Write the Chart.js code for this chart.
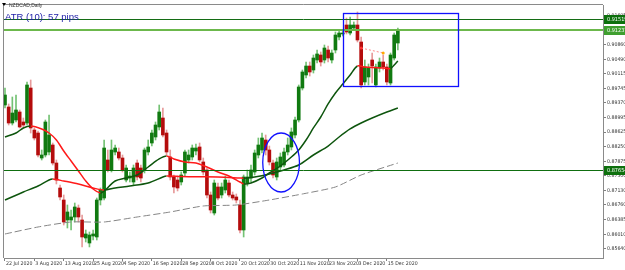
<!DOCTYPE html>
<html>
<head>
<meta charset="utf-8">
<script src="https://cdn.jsdelivr.net/npm/chart.js@4.4.1/dist/chart.umd.min.js"></script>
<style>
html, body { margin: 0; padding: 0; background: #fff; }
canvas { display: block; }
</style>
</head>
<body>
<canvas id="chart" width="625" height="270"></canvas>
<script>
// NZDCAD daily, one bar per trading day starting 22 Jul 2020
const tickDates = ['22 Jul 2020', '3 Aug 2020', '13 Aug 2020', '25 Aug 2020', '4 Sep 2020', '16 Sep 2020',
  '28 Sep 2020', '8 Oct 2020', '20 Oct 2020', '30 Oct 2020', '11 Nov 2020', '23 Nov 2020', '3 Dec 2020', '15 Dec 2020'];
const tickEvery = 8;

const opens = [
  0.89317, 0.89266, 0.88856, 0.88933, 0.89138, 0.88882, 0.88856, 0.89752, 0.88677, 0.88600,
  0.87960, 0.88037, 0.88114, 0.88293, 0.87832, 0.87192, 0.86885, 0.86373, 0.86373, 0.86450,
  0.86680, 0.86373, 0.85912, 0.85784, 0.85963, 0.85938, 0.86885, 0.86936, 0.87909, 0.87653,
  0.88114, 0.88114, 0.87960, 0.87397, 0.87448, 0.87346, 0.87832, 0.87704, 0.87653, 0.88114,
  0.88344, 0.88498, 0.88754, 0.88984, 0.88600, 0.87986, 0.87474, 0.87397, 0.87346, 0.87576,
  0.87909, 0.87986, 0.88139, 0.88242, 0.87858, 0.87653, 0.87013, 0.86552, 0.87218, 0.87013,
  0.87141, 0.87320, 0.87013, 0.86962, 0.86757, 0.86117, 0.87320, 0.87448, 0.87602, 0.88037,
  0.88165, 0.88421, 0.88165, 0.87832, 0.87474, 0.87730, 0.87781, 0.88114, 0.88242, 0.88549,
  0.88933, 0.89752, 0.90085, 0.90315, 0.90213, 0.90469, 0.90597, 0.90469, 0.90725, 0.90469,
  0.90725, 0.91058, 0.91135, 0.91365, 0.91160, 0.91288, 0.91365, 0.90930, 0.89906, 0.90034,
  0.90469, 0.89829, 0.90264, 0.90418, 0.90290, 0.89880, 0.90520, 0.90904];
const highs = [
  0.89752, 0.89343, 0.89522, 0.89573, 0.89189, 0.88984, 0.89906, 0.89957, 0.88729, 0.88652,
  0.88165, 0.88933, 0.89061, 0.88344, 0.87909, 0.87269, 0.87013, 0.86757, 0.86629, 0.86808,
  0.86757, 0.86501, 0.86117, 0.86066, 0.86117, 0.86936, 0.87192, 0.88421, 0.88165, 0.88421,
  0.88293, 0.88216, 0.88037, 0.87781, 0.87602, 0.87781, 0.87909, 0.87781, 0.88216, 0.88421,
  0.88677, 0.88882, 0.89317, 0.89240, 0.88677, 0.88165, 0.87525, 0.87499, 0.87602, 0.88165,
  0.88165, 0.88293, 0.88319, 0.88344, 0.87960, 0.87704, 0.87090, 0.87397, 0.87320, 0.87320,
  0.87499, 0.87397, 0.87090, 0.87039, 0.86885, 0.87525, 0.87653, 0.87781, 0.88165, 0.88472,
  0.88600, 0.88549, 0.88267, 0.87909, 0.87960, 0.88088, 0.88216, 0.88472, 0.88729, 0.89010,
  0.89829, 0.90213, 0.90418, 0.90418, 0.90597, 0.90725, 0.90674, 0.90853, 0.90827, 0.90725,
  0.91186, 0.91237, 0.91211, 0.91544, 0.91570, 0.91442, 0.91698, 0.91058, 0.90469, 0.90367,
  0.90648, 0.90367, 0.90520, 0.90597, 0.90367, 0.90648, 0.91160, 0.91288];
const lows = [
  0.89240, 0.88805, 0.88805, 0.88882, 0.88729, 0.88729, 0.88805, 0.88600, 0.88421, 0.87986,
  0.87909, 0.87986, 0.88037, 0.87781, 0.87295, 0.86885, 0.86245, 0.86168, 0.86117, 0.86322,
  0.86322, 0.85683, 0.85810, 0.85683, 0.85861, 0.85861, 0.86757, 0.86885, 0.87602, 0.87602,
  0.88037, 0.87909, 0.87602, 0.87346, 0.87346, 0.87269, 0.87397, 0.87346, 0.87576, 0.88037,
  0.88267, 0.88421, 0.88677, 0.88498, 0.88037, 0.87397, 0.87064, 0.87116, 0.87269, 0.87499,
  0.87832, 0.87909, 0.88037, 0.87858, 0.87525, 0.86936, 0.86552, 0.86501, 0.86885, 0.86936,
  0.87064, 0.86962, 0.86885, 0.86808, 0.86040, 0.85938, 0.87243, 0.87346, 0.87525, 0.87960,
  0.88088, 0.88037, 0.87781, 0.87448, 0.87397, 0.87653, 0.87730, 0.88037, 0.88165, 0.88472,
  0.88882, 0.89701, 0.90008, 0.90059, 0.90136, 0.90392, 0.90315, 0.90392, 0.90418, 0.90392,
  0.90648, 0.90981, 0.91083, 0.91135, 0.91109, 0.91237, 0.90930, 0.89752, 0.89829, 0.89829,
  0.89880, 0.89778, 0.90162, 0.90213, 0.89829, 0.89829, 0.90469, 0.90725];
const closes = [
  0.89573, 0.88856, 0.89112, 0.89189, 0.88754, 0.88805, 0.89829, 0.88729, 0.88472, 0.88037,
  0.88037, 0.88882, 0.88549, 0.87832, 0.87397, 0.86962, 0.86322, 0.86578, 0.86450, 0.86706,
  0.86450, 0.85938, 0.86015, 0.85989, 0.86015, 0.86885, 0.87141, 0.88216, 0.87653, 0.88165,
  0.88216, 0.87960, 0.87653, 0.87704, 0.87499, 0.87704, 0.87474, 0.87448, 0.88165, 0.88242,
  0.88600, 0.88805, 0.89138, 0.88549, 0.88114, 0.87474, 0.87218, 0.87192, 0.87525, 0.88114,
  0.88037, 0.88216, 0.88216, 0.87909, 0.87602, 0.87013, 0.86629, 0.87320, 0.86936, 0.87218,
  0.87397, 0.87013, 0.86936, 0.86885, 0.86117, 0.87474, 0.87474, 0.87653, 0.88088, 0.88293,
  0.88472, 0.88165, 0.87858, 0.87525, 0.87858, 0.87986, 0.88114, 0.88293, 0.88626, 0.88933,
  0.89778, 0.90162, 0.90315, 0.90162, 0.90520, 0.90623, 0.90418, 0.90776, 0.90520, 0.90648,
  0.91109, 0.91160, 0.91160, 0.91186, 0.91365, 0.91365, 0.90981, 0.89829, 0.90290, 0.90264,
  0.90315, 0.90290, 0.90418, 0.90290, 0.89906, 0.90597, 0.91109, 0.91237];

// moving averages: [bar, price]
const maFast = [[0,0.88498],[3,0.88600],[5,0.88729],[7,0.88779],[10,0.88703],[12,0.88600],[14,0.88421],
  [16,0.88139],[18,0.87883],[20,0.87627],[22,0.87371],[24,0.87167],[26,0.87064],[27,0.87115],[30,0.87371],
  [33,0.87448],[36,0.87525],[39,0.87730],[42,0.87935],[44,0.88011],[46,0.87935],[49,0.87858],[52,0.87832],
  [55,0.87730],[58,0.87602],[61,0.87499],[64,0.87346],[65,0.87295],[67,0.87320],[70,0.87448],[72,0.87576],
  [75,0.87755],[78,0.87986],[80,0.88165],[82,0.88421],[84,0.88729],[86,0.89010],[88,0.89343],[90,0.89624],
  [92,0.89855],[94,0.90085],[96,0.90315],[98,0.90290],[100,0.90277],[103,0.90264],[105,0.90251],
  [106,0.90341],[107,0.90443]];
const maSlow = [[0,0.86885],[5,0.87090],[9,0.87243],[12,0.87397],[13,0.87423],[16,0.87371],[20,0.87295],
  [24,0.87192],[27,0.87141],[30,0.87192],[34,0.87243],[39,0.87320],[43,0.87474],[44,0.87499],[48,0.87487],
  [52,0.87479],[58,0.87474],[64,0.87448],[65,0.87443],[68,0.87474],[72,0.87550],[76,0.87653],[80,0.87781],
  [84,0.88037],[88,0.88267],[91,0.88498],[94,0.88703],[97,0.88856],[100,0.88984],[104,0.89138],[107,0.89240]];
const maLong = [[0,0.86015],[9,0.86194],[18,0.86322],[27,0.86322],[36,0.86450],[45,0.86578],[54,0.86732],
  [63,0.86757],[72,0.86885],[81,0.87039],[90,0.87218],[97,0.87525],[107,0.87832]];
const tradeLine = [[97,0.90776],[103,0.90648]];

const priceTicks = [0.85640, 0.86010, 0.86385, 0.86760, 0.87130, 0.87500, 0.87875, 0.88250, 0.88625,
  0.88995, 0.89370, 0.89745, 0.90115, 0.90490, 0.90860, 0.91235, 0.91605];
const levels = [0.91519, 0.91237, 0.87654];
const boxBars = [92.1, 123.3];
const boxPrices = [0.91672, 0.89803];
const ovalBars = [70.2, 80.2];
const ovalPrices = [0.88600, 0.87090];

const upBody = '#107a10', downBody = '#b40c0c';
const upWick = '#74c274', downWick = '#e79a9a';
const maUp = '#0d550d', maDown = '#ff1a1a';
const smallFont = { family: "'Liberation Sans Narrow', 'DejaVu Sans Condensed', sans-serif", size: 5.2 };

const isUp = opens.map((o, i) => closes[i] >= o);
const pts = arr => arr.map(p => ({ x: p[0], y: p[1] }));

const overlay = {
  id: 'overlay',
  afterDatasetsDraw(chart) {
    const { ctx, chartArea: a, scales: { x, y } } = chart;
    ctx.save();
    const levelStyle = [['#146c14', 1], ['#6cb84c', 2], ['#0f6e0f', 1]];
    levels.forEach((v, k) => {
      const py = Math.round(y.getPixelForValue(v)) + (levelStyle[k][1] === 1 ? 0.5 : 0);
      ctx.strokeStyle = levelStyle[k][0];
      ctx.lineWidth = levelStyle[k][1];
      ctx.beginPath(); ctx.moveTo(a.left, py); ctx.lineTo(a.right, py); ctx.stroke();
    });
    // rectangle
    const bx0 = Math.round(x.getPixelForValue(boxBars[0])) + 0.5, bx1 = Math.round(x.getPixelForValue(boxBars[1])) + 0.5;
    const by0 = Math.round(y.getPixelForValue(boxPrices[0])) + 0.5, by1 = Math.round(y.getPixelForValue(boxPrices[1])) + 0.5;
    ctx.strokeStyle = '#1010ff'; ctx.lineWidth = 1.3;
    ctx.strokeRect(bx0, by0, bx1 - bx0, by1 - by0);
    // ellipse
    const ox0 = x.getPixelForValue(ovalBars[0]), ox1 = x.getPixelForValue(ovalBars[1]);
    const oy0 = y.getPixelForValue(ovalPrices[0]), oy1 = y.getPixelForValue(ovalPrices[1]);
    ctx.beginPath();
    ctx.ellipse((ox0 + ox1) / 2, (oy0 + oy1) / 2, (ox1 - ox0) / 2, (oy1 - oy0) / 2, 0, 0, Math.PI * 2);
    ctx.stroke();
    ctx.restore();
  },
  afterDraw(chart) {
    const { ctx, chartArea: a, scales: { y } } = chart;
    ctx.save();
    ctx.strokeStyle = '#8a8a8a'; ctx.lineWidth = 1;
    ctx.beginPath();
    ctx.moveTo(a.left - 0.5, a.bottom); ctx.lineTo(a.left - 0.5, a.top - 0.5); ctx.lineTo(a.right, a.top - 0.5);
    ctx.stroke();
    // price labels of the horizontal lines
    const boxColors = ['#0d700d', '#3f9f2f', '#0d700d'];
    ctx.font = "5.5px 'Liberation Sans Narrow', 'DejaVu Sans Condensed', sans-serif";
    ctx.textBaseline = 'middle';
    levels.forEach((v, k) => {
      const py = Math.round(y.getPixelForValue(v));
      ctx.fillStyle = boxColors[k];
      ctx.fillRect(a.right + 1, py - 4, 21, 9);
      ctx.fillStyle = '#ffffff';
      ctx.fillText(v.toFixed(5), a.right + 4, py + 0.5);
    });
    // title and indicator text
    ctx.fillStyle = '#000';
    ctx.beginPath(); ctx.moveTo(2, 3); ctx.lineTo(6, 3); ctx.lineTo(4, 6); ctx.closePath(); ctx.fill();
    ctx.fillStyle = '#333';
    ctx.font = "5px 'Liberation Sans', sans-serif";
    ctx.textBaseline = 'alphabetic';
    ctx.fillText('NZDCAD,Daily', 9, 7);
    ctx.fillStyle = '#1c1ca6';
    ctx.font = "9.5px 'Liberation Sans', sans-serif";
    ctx.fillText('ATR (10): 57 pips', 5, 20);
    ctx.restore();
  }
};

new Chart(document.getElementById('chart'), {
  type: 'bar',
  data: {
    datasets: [
      { type: 'line', data: pts(maLong), borderColor: '#858585', borderWidth: 1, borderDash: [7, 3],
        pointRadius: 0, tension: 0.2, order: 1 },
      { type: 'line', data: pts(maSlow), borderColor: maUp, borderWidth: 1.5, pointRadius: 0, tension: 0.3, order: 1,
        segment: { borderColor: c => c.p1.parsed.y < c.p0.parsed.y ? maDown : maUp } },
      { type: 'line', data: pts(maFast), borderColor: maUp, borderWidth: 1.5, pointRadius: 0, tension: 0.3, order: 1,
        segment: { borderColor: c => c.p1.parsed.y < c.p0.parsed.y ? maDown : maUp } },
      { type: 'line', data: pts(tradeLine), borderColor: '#ff8a8a', borderWidth: 1, borderDash: [2, 2],
        pointRadius: [1.5, 1.5], pointBackgroundColor: ['#ff3030', '#ffaa00'], pointBorderWidth: 0, order: 1 },
      { data: lows.map((l, i) => ({ x: i, y: [l, highs[i]] })), backgroundColor: isUp.map(u => u ? upWick : downWick),
        barThickness: 1, grouped: false, order: 3 },
      { data: opens.map((o, i) => ({ x: i, y: [o, closes[i]] })), backgroundColor: isUp.map(u => u ? upBody : downBody),
        barThickness: 3, grouped: false, minBarLength: 1, order: 2 }
    ]
  },
  options: {
    responsive: false,
    animation: false,
    events: [],
    layout: { padding: { top: 5, left: 1, right: 0, bottom: 0 } },
    plugins: { legend: { display: false }, tooltip: { enabled: false } },
    scales: {
      x: {
        type: 'linear', min: -0.27, max: 162.87, offset: false,
        afterBuildTicks: s => { s.ticks = tickDates.map((d, k) => ({ value: k * tickEvery })); },
        afterFit: s => { s.height = 12; s.paddingLeft = 0; s.paddingRight = 0; },
        ticks: { callback: (v, i) => tickDates[i], autoSkip: false, maxRotation: 0, align: 'start',
          labelOffset: 1, padding: 0, color: '#333', font: smallFont },
        grid: { drawOnChartArea: false, tickLength: 3, color: '#808080', offset: false },
        border: { color: '#8a8a8a' }
      },
      y: {
        type: 'linear', position: 'right', min: 0.85400, max: 0.91877,
        afterBuildTicks: s => { s.ticks = priceTicks.map(v => ({ value: v })); },
        afterFit: s => { s.width = 22; },
        ticks: { callback: v => v.toFixed(5), padding: 1, color: '#333', font: smallFont },
        grid: { drawOnChartArea: false, tickLength: 3, color: '#808080' },
        border: { color: '#8a8a8a' }
      }
    }
  },
  plugins: [overlay]
});
</script>
</body>
</html>
